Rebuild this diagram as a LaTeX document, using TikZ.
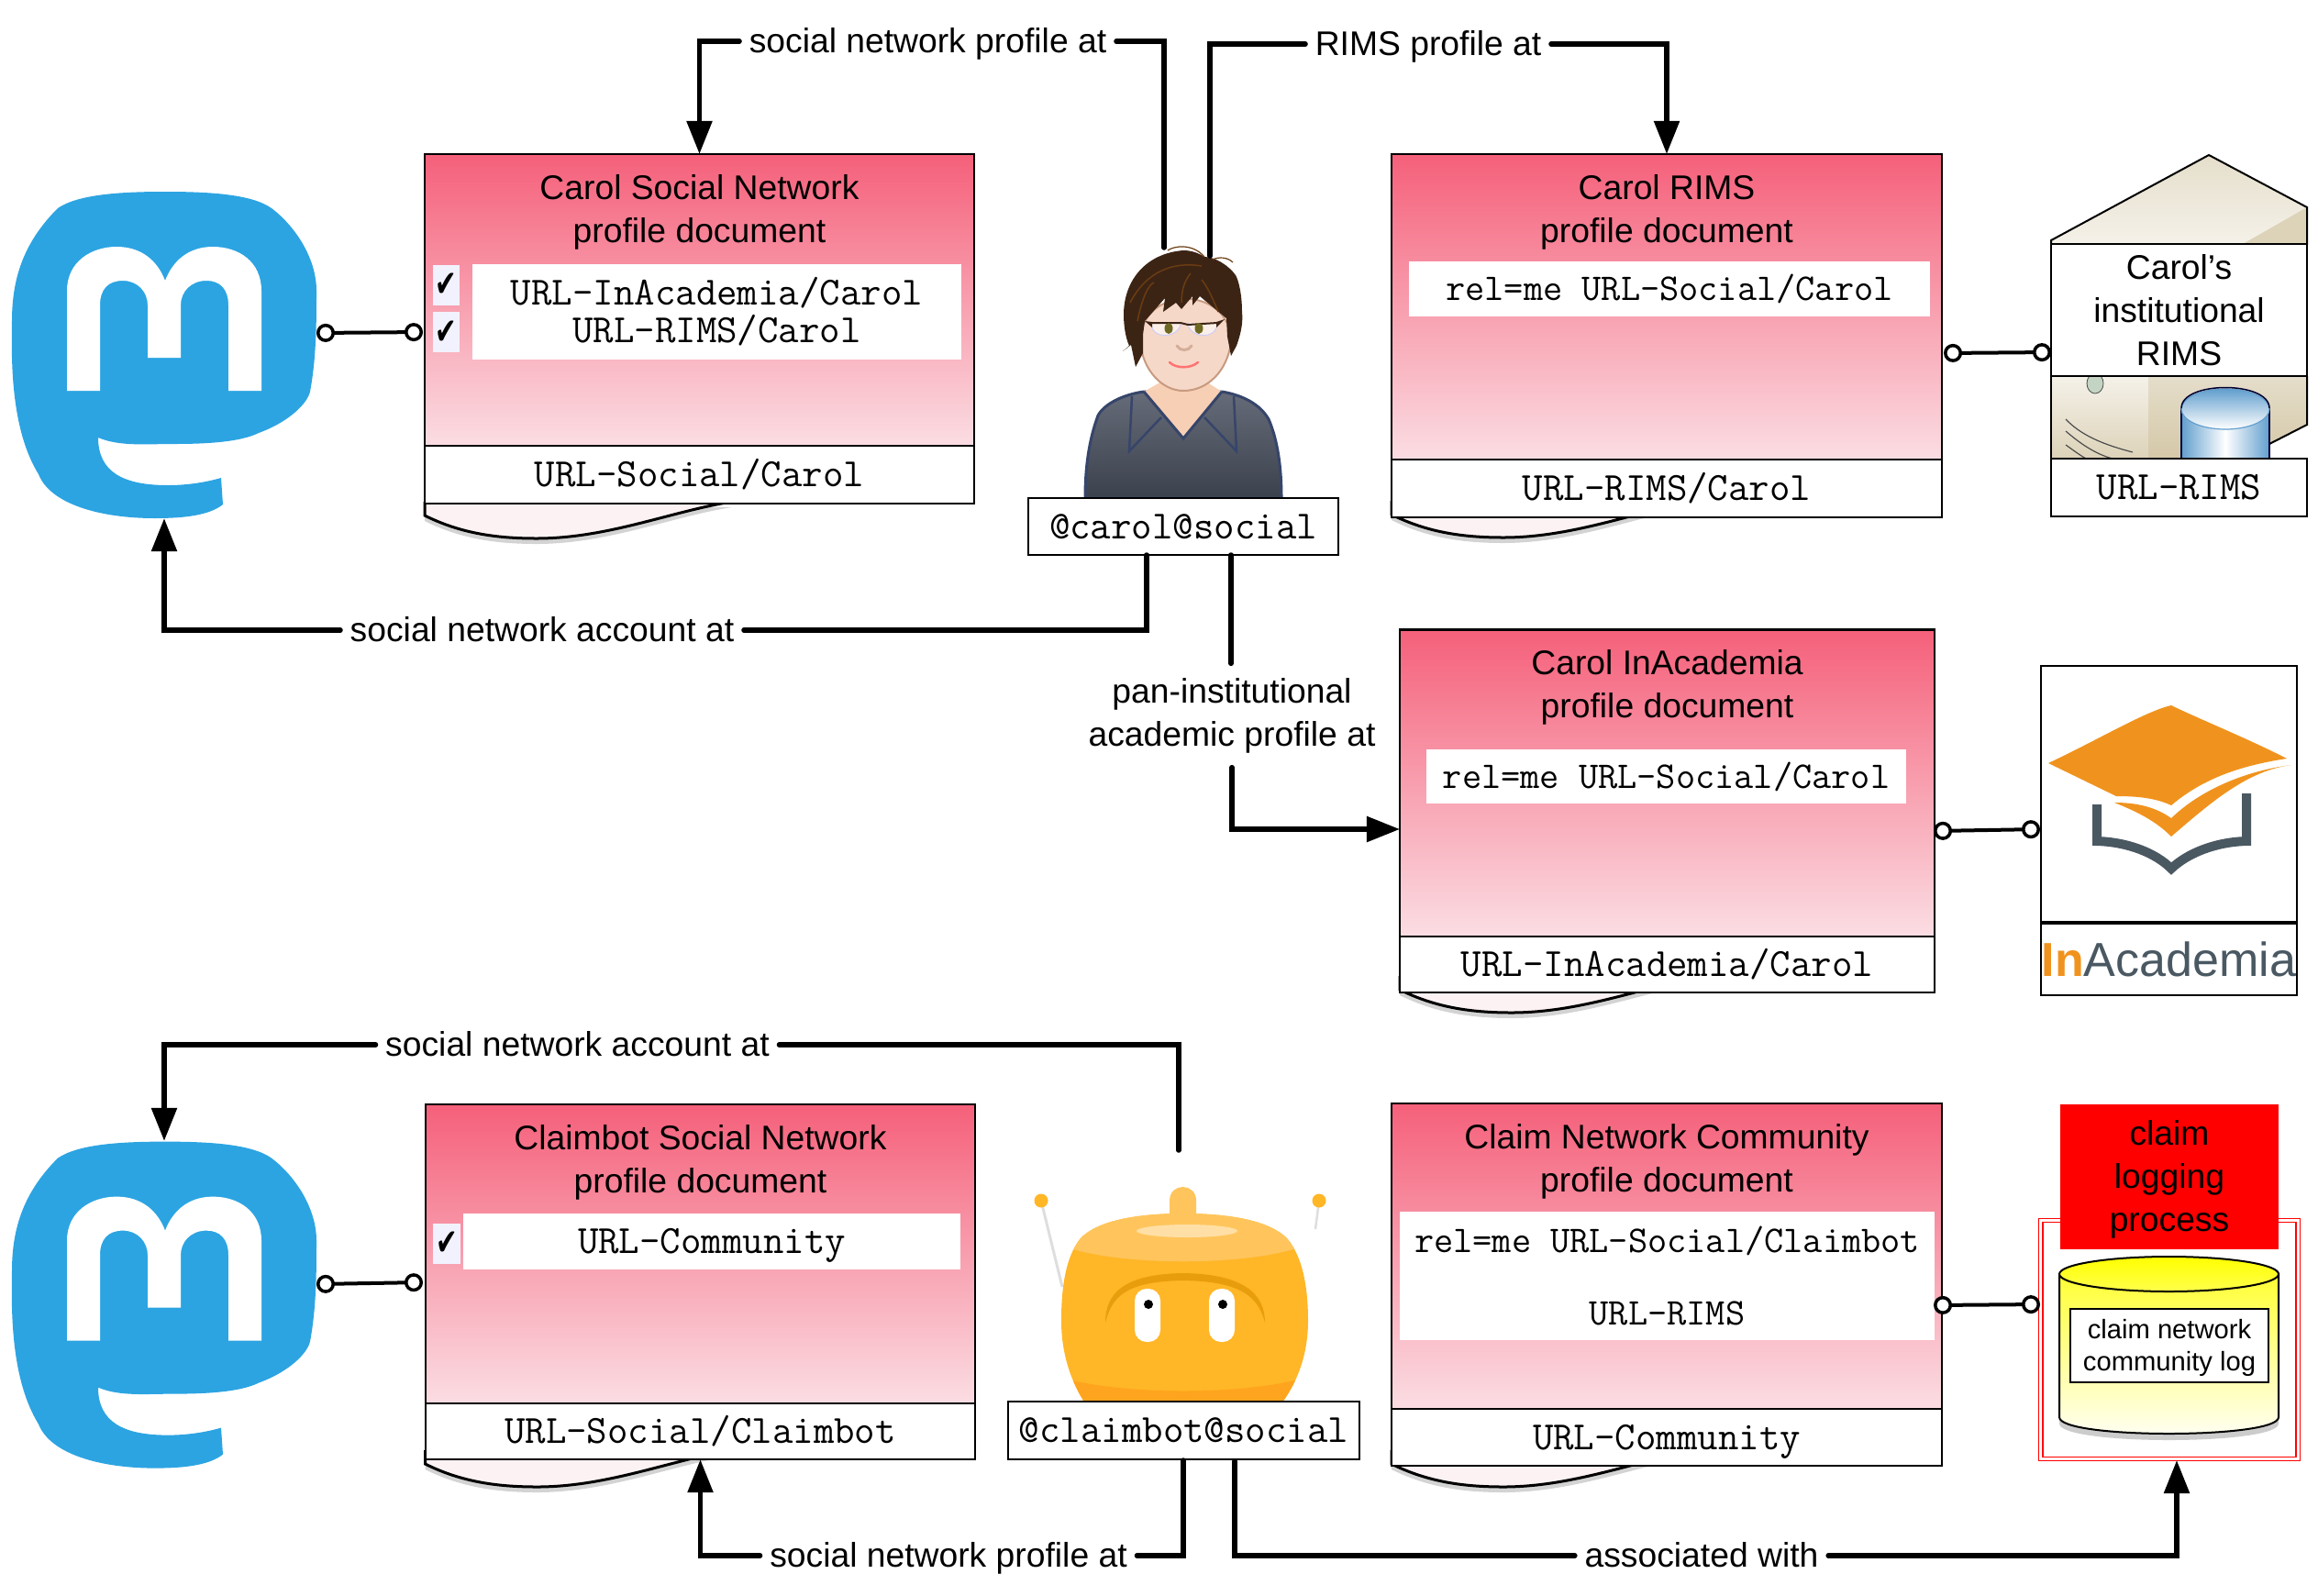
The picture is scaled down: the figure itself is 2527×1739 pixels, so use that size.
\documentclass[tikz,border=0pt]{standalone}
\usepackage{fontspec}
\setmainfont{Liberation Sans}
\newfontfamily\checkfont{DejaVu Sans}
\usetikzlibrary{positioning,arrows.meta,shadows}

\definecolor{mastblue}{HTML}{2CA4E2}
\definecolor{doctop}{HTML}{F5607A}
\definecolor{docend}{HTML}{FBDDE3}
\definecolor{tailpink}{HTML}{FDF2F3}
\definecolor{roofdark}{HTML}{E5DECB}
\definecolor{rooflight}{HTML}{F5F2EA}
\definecolor{housedark}{HTML}{D5C8A8}
\definecolor{disc}{HTML}{629FCE}
\definecolor{hatorange}{HTML}{F0931E}
\definecolor{bookgrey}{HTML}{4A5862}
\definecolor{shirtgrey}{HTML}{4B5161}
\definecolor{shirtline}{HTML}{36456A}
\definecolor{hairdark}{HTML}{3C2415}
\definecolor{hairlight}{HTML}{6A3C12}
\definecolor{skin}{HTML}{F6D8C8}
\definecolor{skinedge}{HTML}{C89A80}
\definecolor{botmain}{HTML}{FFB627}
\definecolor{bottop}{HTML}{FFC55C}
\definecolor{botlow}{HTML}{FFA41E}
\definecolor{botbrow}{HTML}{E89E0C}

\tikzset{
    big/.style = {font=\fontsize{10.6}{13.4}\selectfont, align=center},
    code/.style = {font=\fontsize{12.4}{11.7}\ttfamily\selectfont, align=center},
    relcode/.style = {font=\fontsize{11.7}{11.7}\ttfamily\selectfont, align=center},
    oneline/.style = {text height=.29cm, text depth=.03cm},
    docbody/.style = {draw, line width=.022cm, rectangle, inner sep=0pt, outer sep=0pt, top color=doctop, bottom color=docend},
    docurl/.style = {code, oneline, draw, line width=.022cm, rectangle, fill=white, inner sep=0pt, outer sep=0pt},
    doctitle/.style = {big, inner sep=0pt},
    inset/.style = {code, fill=white, rectangle, inner sep=0pt},
    tick/.style = {fill=white!95!blue, minimum width=.29cm, minimum height=.44cm, inner sep=0pt, font=\checkfont\fontsize{10}{10}\selectfont},
    logobox/.style = {rectangle, minimum width=3.33cm, minimum height=3.56cm, inner sep=0pt, outer sep=0pt},
    rule/.style = {line width=.055cm, line cap=round},
    flow/.style = {rule, -{Triangle[length=.36cm, width=.27cm]}},
    lolly/.style = {line width=.04cm, {Circle[open, fill=white, length=.2cm, width=.2cm, line width=.035cm]}-{Circle[open, fill=white, length=.2cm, width=.2cm, line width=.035cm]}},
    flowlabel/.style = {big, inner xsep=.1cm, inner ysep=.04cm, text height=.26cm, text depth=.02cm},
    flowstack/.style = {big, inner xsep=.1cm, inner ysep=.15cm},
}

% curled lower edge of a document
\newcommand{\doctail}[2]{
\begin{scope}[shift={(#1,#2)}]
\fill[tailpink, drop shadow={shadow xshift=0cm, shadow yshift=-.06cm, opacity=.35}] (0,-40) -- (0,-25) .. controls (40,-5) and (80,0) .. (122,0) .. controls (200,0) and (270,-30) .. (335,-40) -- cycle;
\draw[line width=.03cm] (0,-40) -- (0,-25) .. controls (40,-5) and (80,0) .. (122,0) .. controls (200,0) and (270,-30) .. (335,-40);
\end{scope}
}

\newcommand{\mastlogo}[1]{
\begin{scope}[yshift=#1]
\fill[mastblue] (180,209) .. controls (130,209) and (85,212) .. (63,227) .. controls (28,262) and (13,300) .. (13,350) .. controls (12,400) and (13,470) .. (42,517) .. controls (55,550) and (110,565) .. (169,565) .. controls (200,565) and (228,562) .. (243,550) -- (241,521) .. controls (220,527) and (200,529) .. (183,529) .. controls (135,529) and (107,515) .. (107,477) .. controls (130,487) and (160,484) .. (190,484) .. controls (225,484) and (262,482) .. (282,472) .. controls (315,460) and (335,440) .. (338,427) .. controls (345,390) and (345,350) .. (345,317) .. controls (345,280) and (320,245) .. (296,227) .. controls (275,212) and (230,209) .. (180,209) -- cycle;
\fill[white] (73,426) -- (73,317) .. controls (73,285) and (100,269) .. (127,269) .. controls (155,269) and (172,285) .. (180,306) .. controls (188,285) and (205,269) .. (232,269) .. controls (260,269) and (285,285) .. (285,317) -- (285,426) -- (249,426) -- (249,333) .. controls (249,315) and (240,306) .. (225,306) .. controls (208,306) and (197,318) .. (197,333) -- (197,390) -- (161,390) -- (161,333) .. controls (161,318) and (150,306) .. (134,306) .. controls (118,306) and (109,315) .. (109,333) -- (109,426) -- cycle;
\end{scope}
}

\newcommand{\tickmark}{\scalebox{.8}[1.15]{✔}}

\begin{document}
\begin{tikzpicture}[x=.01cm, y=-.01cm]
\useasboundingbox (0,0) rectangle (2527,1739);

% logos
\mastlogo{0cm}
\mastlogo{-10.35cm}
\node[logobox] (mast1) at (179,387) {};
\node[logobox] (mast2) at (179,1422) {};

% Carol
\draw[draw=shirtline, line width=.03cm, top color=shirtgrey!85!white, bottom color=shirtgrey!80!black] (1183,543) .. controls (1183,510) and (1187,480) .. (1197,453) .. controls (1204,440) and (1225,430) .. (1247,427) -- (1332,427) .. controls (1350,430) and (1372,438) .. (1383,457) .. controls (1393,480) and (1397,510) .. (1397,543) -- cycle;
\fill[skinedge] (1248,427) .. controls (1258,424) and (1265,420) .. (1268,415) -- (1312,415) .. controls (1316,420) and (1322,424) .. (1332,427) -- cycle;
\fill[skin!90!orange] (1247,427) -- (1290,478) -- (1332,427) -- (1313,415) -- (1268,415) -- cycle;
\draw[shirtline, line width=.03cm] (1247,427) -- (1290,478) -- (1332,427);
\draw[shirtline, line width=.025cm] (1234,432) -- (1231,492) -- (1266,455);
\draw[shirtline, line width=.025cm] (1345,432) -- (1348,492) -- (1313,455);
\draw[draw=skinedge, line width=.02cm, fill=skin] (1243,373) .. controls (1246,405) and (1268,426) .. (1290,426) .. controls (1316,426) and (1338,405) .. (1342,373) .. controls (1342,310) and (1243,310) .. (1243,373) -- cycle;
\fill[hairdark] (1290,273) .. controls (1250,276) and (1225,305) .. (1225,343) .. controls (1225,355) and (1227,368) .. (1231,377) -- (1224,383) -- (1233,376) -- (1238,400) -- (1246,385) -- (1246,365) -- (1248,350) -- (1270,325) -- (1268,340) -- (1282,330) -- (1288,337) -- (1300,323) -- (1300,333) -- (1308,323) -- (1337,347) -- (1338,367) -- (1342,388) -- (1348,377) .. controls (1354,360) and (1355,350) .. (1354,340) .. controls (1354,320) and (1350,305) .. (1347,300) .. controls (1340,290) and (1325,280) .. (1313,280) .. controls (1305,275) and (1298,273) .. (1290,273) -- cycle;
\draw[hairlight, line width=.012cm] (1273,273) .. controls (1280,268) and (1300,265) .. (1313,280);
\draw[hairlight, line width=.012cm] (1322,283) .. controls (1328,280) and (1338,280) .. (1344,286);
\draw[hairlight, line width=.015cm] (1232,330) .. controls (1250,295) and (1280,285) .. (1310,290);
\draw[hairlight, line width=.015cm] (1240,350) .. controls (1245,325) and (1252,310) .. (1258,308);
\draw[hairlight, line width=.015cm] (1288,330) .. controls (1288,315) and (1292,305) .. (1298,298);
\draw[hairlight, line width=.015cm] (1328,340) .. controls (1322,325) and (1316,312) .. (1310,305);
\fill[skin!40!white] (1255,352) .. controls (1255,372) and (1287,368) .. (1287,352) -- cycle;
\fill[skin!40!white] (1295,352) .. controls (1295,368) and (1327,372) .. (1327,352) -- cycle;
\draw[black!15!blue!20!white, line width=.01cm] (1255,352) .. controls (1255,372) and (1287,368) .. (1287,352);
\draw[black!15!blue!20!white, line width=.01cm] (1295,352) .. controls (1295,368) and (1327,372) .. (1327,352);
\draw[hairdark, line width=.02cm] (1255,352) -- (1287,352) -- (1295,354) -- (1327,352);
\fill[hairdark] (1248,350) -- (1256,351) -- (1256,357) -- cycle;
\fill[hairdark] (1335,348) -- (1326,351) -- (1326,357) -- cycle;
\fill[olive!70!black] (1274,358) ellipse [x radius=4.5, y radius=6];
\fill[olive!70!black] (1307,358) ellipse [x radius=4.5, y radius=6];
\draw[skinedge!80!white, line width=.03cm, line cap=round] (1283,377) .. controls (1286,383) and (1296,383) .. (1299,377);
\draw[red!55!white, line width=.025cm, line cap=round] (1275,395) .. controls (1282,402) and (1298,402) .. (1306,395);

% Claimbot
\draw[black!13, line width=.03cm] (1135,1309) -- (1158,1403);
\draw[black!13, line width=.025cm] (1438,1309) -- (1434,1340);
\fill[botmain] (1135,1309) circle (7.5);
\fill[botmain] (1438,1309) circle (7.5);
\fill[bottop] (1275,1325) -- (1275,1309) .. controls (1275,1289) and (1304,1289) .. (1304,1309) -- (1304,1325) -- cycle;
\begin{scope}
\clip (1290,1323) .. controls (1235,1323) and (1195,1332) .. (1178,1350) .. controls (1160,1372) and (1157,1410) .. (1157,1440) .. controls (1157,1480) and (1170,1510) .. (1183,1530) -- (1397,1530) .. controls (1412,1510) and (1426,1480) .. (1426,1440) .. controls (1426,1410) and (1422,1372) .. (1403,1350) .. controls (1385,1332) and (1345,1323) .. (1290,1323) -- cycle;
\fill[botmain] (1150,1320) rectangle (1430,1535);
\fill[bottop] (1150,1320) -- (1430,1320) -- (1430,1355) .. controls (1370,1382) and (1210,1382) .. (1150,1355) -- cycle;
\fill[botlow] (1150,1530) -- (1430,1530) -- (1430,1500) .. controls (1360,1522) and (1220,1522) .. (1150,1500) -- cycle;
\end{scope}
\fill[white!45!bottop] (1294,1342) ellipse [x radius=55, y radius=7];
\fill[botbrow] (1205,1442) .. controls (1205,1410) and (1225,1389) .. (1290,1388) .. controls (1355,1389) and (1379,1410) .. (1379,1442) .. controls (1372,1415) and (1355,1397) .. (1290,1396) .. controls (1225,1397) and (1212,1415) .. (1205,1442) -- cycle;
\fill[white, rounded corners=.13cm] (1237,1405) rectangle (1265,1463);
\fill[white, rounded corners=.13cm] (1318,1405) rectangle (1346,1463);
\fill[black] (1252,1422) circle (5);
\fill[black] (1333,1422) circle (5);

% institution server
\fill[top color=roofdark, bottom color=rooflight] (2236,262) -- (2408,169) -- (2515,226) -- (2515,270) -- (2236,270) -- cycle;
\fill[housedark!80!white] (2515,226) -- (2445,266) -- (2515,266) -- cycle;
\fill[top color=rooflight, bottom color=housedark!80!white] (2236,408) rectangle (2342,500);
\fill[top color=roofdark, bottom color=housedark] (2342,408) -- (2515,408) -- (2515,463) -- (2474,484) -- (2474,500) -- (2342,500) -- cycle;
\draw[line width=.02cm] (2236,267) -- (2236,262) -- (2408,169) -- (2515,226) -- (2515,267);
\draw[line width=.02cm] (2515,410) -- (2515,463) -- (2474,484);
\draw[line width=.02cm] (2236,410) -- (2236,500);
\draw[draw=black!70, line width=.008cm, fill=green!15!gray!40!white] (2284,418) ellipse [x radius=9, y radius=11];
\draw[black!70, line width=.012cm] (2252,457) .. controls (2269,475) and (2294,485) .. (2325,493);
\draw[black!70, line width=.012cm] (2252,470) .. controls (2267,483) and (2284,495) .. (2303,500);
\draw[black!70, line width=.012cm] (2252,485) .. controls (2259,490) and (2267,496) .. (2274,500);
\shade[left color=disc, right color=disc, middle color=white] (2378,445) rectangle (2474,500);
\draw[black!80!blue, line width=.015cm] (2378,500) -- (2378,445);
\draw[black!80!blue, line width=.015cm] (2474,500) -- (2474,445);
\draw[draw=disc, line width=.012cm, top color=disc, bottom color=white] (2426,446) ellipse [x radius=48, y radius=22];
\draw[black!80!blue, line width=.015cm] (2378,445) .. controls (2378,415) and (2474,415) .. (2474,445);

% documents
\doctail{463}{587}
\node[docbody, minimum width=5.99cm, minimum height=3.18cm] (doc1) at (762.5,327) {};
\node[docurl, minimum width=5.99cm, minimum height=.63cm, below=0pt of doc1] (url1) {URL-Social/Carol};
\node[doctitle, below=.215cm of doc1.north] (title1) {Carol Social Network\\profile document};
\node[inset, minimum width=5.33cm, minimum height=1.04cm] (links1) at (781.5,340) {URL-InAcademia/Carol\\URL-RIMS/Carol};
\node[tick] (tick1) at (486.5,311) {\tickmark};
\node[tick, below=.06cm of tick1] (tick2) {\tickmark};

\doctail{1517}{586}
\node[docbody, minimum width=6cm, minimum height=3.33cm] (doc2) at (1817,334.5) {};
\node[docurl, minimum width=6cm, minimum height=.63cm, below=0pt of doc2] (url2) {URL-RIMS/Carol};
\node[doctitle, below=.215cm of doc2.north] (title2) {Carol RIMS\\profile document};
\node[inset, relcode, minimum width=5.67cm, minimum height=.6cm] (links2) at (1820,315) {rel=me URL-Social/Carol};

\doctail{1526}{1104}
\node[docbody, minimum width=5.83cm, minimum height=3.34cm] (doc3) at (1817.5,853.5) {};
\node[docurl, minimum width=5.83cm, minimum height=.61cm, below=0pt of doc3] (url3) {URL-InAcademia/Carol};
\node[doctitle, below=.215cm of doc3.north] (title3) {Carol InAcademia\\profile document};
\node[inset, relcode, minimum width=5.23cm, minimum height=.59cm] (links3) at (1816.5,846.5) {rel=me URL-Social/Carol};

\doctail{463.5}{1621}
\node[docbody, minimum width=5.99cm, minimum height=3.26cm] (doc4) at (763.5,1367) {};
\node[docurl, minimum width=5.99cm, minimum height=.61cm, below=0pt of doc4] (url4) {URL-Social/Claimbot};
\node[doctitle, below=.215cm of doc4.north] (title4) {Claimbot Social Network\\profile document};
\node[inset, oneline, minimum width=5.41cm, minimum height=.61cm] (links4) at (776,1353.5) {URL-Community};
\node[tick] (tick3) at (487,1356) {\tickmark};

\doctail{1517}{1621}
\node[docbody, minimum width=6cm, minimum height=3.33cm] (doc5) at (1817,1369.5) {};
\node[docurl, minimum width=6cm, minimum height=.62cm, below=0pt of doc5] (url5) {URL-Community};
\node[doctitle, below=.215cm of doc5.north] (title5) {Claim Network Community\\profile document};
\node[inset, relcode, minimum width=5.82cm, minimum height=1.4cm] (links5) at (1817.5,1391) {rel=me URL-Social/Claimbot\\[10.8pt]URL-RIMS};

% services
\node[draw, line width=.022cm, fill=white, big, minimum width=2.79cm, minimum height=1.44cm, inner sep=0pt] (rims) at (2375.5,338) {Carol’s\\institutional\\RIMS};
\node[docurl, minimum width=2.79cm, minimum height=.63cm] (rimsurl) at (2375.5,531.5) {URL-RIMS};

\node[draw, line width=.022cm, fill=white, minimum width=2.79cm, minimum height=2.79cm, inner sep=0pt] (acad) at (2364.5,865.5) {};
\node[draw, line width=.022cm, minimum width=2.79cm, minimum height=.78cm, inner sep=0pt, below=0pt of acad, font=\fontsize{14.8}{15}\selectfont, text=bookgrey, text depth=.02cm] (acadname) {\textcolor{hatorange}{\textbf{In}}Academia};
\fill[hatorange] (2233,832) .. controls (2290,805) and (2340,775) .. (2367,769) .. controls (2400,785) and (2450,805) .. (2493,827) .. controls (2440,835) and (2400,850) .. (2367,878) .. controls (2350,870) and (2330,868) .. (2307,868) -- cycle;
\fill[hatorange] (2305,875) .. controls (2330,875) and (2350,880) .. (2367,892) .. controls (2400,860) and (2450,840) .. (2498,834) .. controls (2450,840) and (2410,875) .. (2367,912) .. controls (2350,895) and (2330,885) .. (2305,875) -- cycle;
\draw[bookgrey, line width=.1cm] (2286,877) -- (2286,917) .. controls (2320,918) and (2350,930) .. (2367,947) .. controls (2385,930) and (2415,918) .. (2449,917) -- (2449,865);

\node[draw=red, line width=.012cm, double=white, double distance=.03cm, fill=white, minimum width=2.8cm, minimum height=2.6cm, inner sep=0pt] (logwrap) at (2365,1460.5) {};
\fill[yellow!5!white, drop shadow={shadow xshift=0cm, shadow yshift=-.07cm, opacity=.4}] (2245,1389) -- (2245,1545) .. controls (2245,1569) and (2484,1569) .. (2484,1545) -- (2484,1389) -- cycle;
\draw[line width=.02cm, top color=yellow!80!white, bottom color=yellow!3!white] (2245,1389) -- (2245,1545) .. controls (2245,1569) and (2484,1569) .. (2484,1545) -- (2484,1389) -- cycle;
\draw[line width=.02cm, top color=yellow, bottom color=yellow!70!white] (2364.5,1389) ellipse [x radius=119.5, y radius=19];
\node[draw, line width=.02cm, fill=white, minimum width=2.16cm, minimum height=.8cm, inner sep=0pt, align=center, font=\fontsize{8.3}{10}\selectfont, text depth=.02cm] (logname) at (2365,1467) {claim network\\community log};
\node[fill=red, big, minimum width=2.38cm, minimum height=1.58cm, inner sep=0pt, text depth=.02cm] (logger) at (2365,1283) {claim\\logging\\process};

% handles
\node[docurl, minimum width=3.38cm, minimum height=.62cm] (carol) at (1290,574) {@carol@social};
\node[docurl, minimum width=3.83cm, minimum height=.63cm] (bot) at (1290.5,1559.5) {@claimbot@social};

% connector ends
\coordinate (carolsn) at (1269,270);
\coordinate (carolrims) at (1319,279);
\coordinate (carolacct) at (1250,605);
\coordinate (carolpan) at (1342,605);
\coordinate (botacct) at (1285,1254);
\coordinate (botsn) at (1290,1592);
\coordinate (botlog) at (1346,1593);
\coordinate (doc3in) at (1526,904);
\coordinate (logwrapin) at (2373,1592);

% labels on connectors
\node[flowlabel] (lblsn1) at (1011.5,45) {social network profile at};
\node[flowlabel] (lblrims) at (1557,48) {RIMS profile at};
\node[flowlabel] (lblacct1) at (591,687) {social network account at};
\node[flowstack] (lblpan) at (1343,780) {pan-institutional\\academic profile at};
\node[flowlabel] (lblacct2) at (629.5,1139) {social network account at};
\node[flowlabel] (lblsn2) at (1034,1696) {social network profile at};
\node[flowlabel] (lblassoc) at (1855,1696) {associated with};

\draw[rule] (carolsn) |- (lblsn1.east);
\draw[flow] (lblsn1.west) -| (doc1.north);
\draw[rule] (carolrims) |- (lblrims.west);
\draw[flow] (lblrims.east) -| (doc2.north);
\draw[rule] (carolacct) |- (lblacct1.east);
\draw[flow] (lblacct1.west) -| (mast1.south);
\draw[rule] (carolpan) -- (carolpan |- lblpan.north);
\draw[flow] (lblpan.south) |- (doc3in);
\draw[rule] (botacct) |- (lblacct2.east);
\draw[flow] (lblacct2.west) -| (mast2.north);
\draw[rule] (botsn) |- (lblsn2.east);
\draw[flow] (lblsn2.west) -| (url4.south);
\draw[rule] (botlog) |- (lblassoc.west);
\draw[flow] (lblassoc.east) -| (logwrapin);

% lollipops
\coordinate (lolly1a) at (345,363);
\coordinate (lolly1b) at (461,362);
\coordinate (lolly2a) at (2119,385);
\coordinate (lolly2b) at (2236,384);
\coordinate (lolly3a) at (2108,906);
\coordinate (lolly3b) at (2224,904);
\coordinate (lolly4a) at (345,1400);
\coordinate (lolly4b) at (461,1398);
\coordinate (lolly5a) at (2108,1423);
\coordinate (lolly5b) at (2224,1422);
\foreach \i in {1,...,5}
    \draw[lolly] (lolly\i a) -- (lolly\i b);

\end{tikzpicture}
\end{document}
